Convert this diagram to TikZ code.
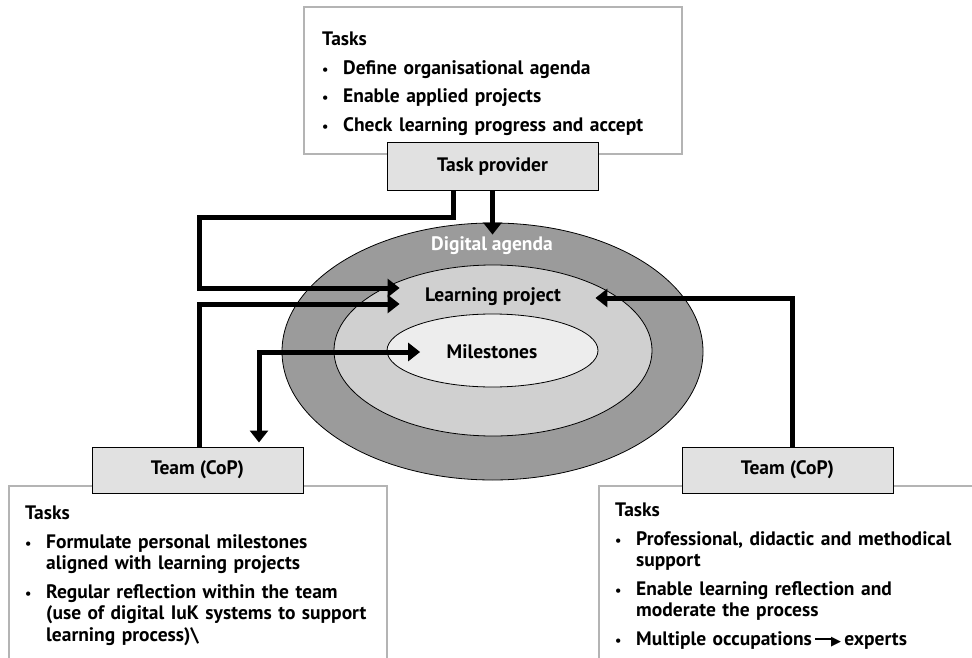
\documentclass[tikz,border=0pt]{standalone}
\usepackage{fontspec}
\setmainfont{PT Sans}
\newfontfamily\symfont{DejaVu Sans}
\usepackage{enumitem}
\usetikzlibrary{positioning, arrows.meta, shapes.geometric}
\definecolor{outercol}{RGB}{155,155,155}
\definecolor{middlecol}{RGB}{208,208,208}
\definecolor{innercol}{RGB}{237,237,237}
\definecolor{boxcol}{RGB}{225,225,225}
\definecolor{framecol}{RGB}{180,180,180}
\setlist[itemize]{label={\fontsize{14}{14}\selectfont\textbullet}, leftmargin=21pt, labelwidth=10pt, labelsep=11pt, align=left,
  itemsep=7pt, parsep=0pt, topsep=7pt, partopsep=0pt}

\begin{document}
\begin{tikzpicture}[
			x=1pt, y=-1pt,
			font=\bfseries\fontsize{19.5}{21.5}\selectfont,
			role/.style={
				draw=black,
				fill=boxcol,
				line width=1pt,
				minimum width=211pt,
				minimum height=47pt
			},
			frame/.style={
				draw=framecol,
				line width=1.3pt
			},
			ring/.style={
				draw=black,
				ellipse,
				line width=0.8pt,
				inner sep=0pt
			},
			tasks/.style={
				anchor=north west,
				text width=#1,
				inner sep=0pt,
				align=left
			},
			flow/.style={
				line width=5pt,
				-{Triangle[length=12pt,width=18pt]}
			},
			twoway/.style={
				line width=5pt,
				{Triangle[length=12pt,width=18pt]}-{Triangle[length=12pt,width=18pt]}
			}
			]
			\useasboundingbox (0,0) rectangle (972,658);

			% Task frames
			\node[frame, fill=white, minimum width=378pt, minimum height=147pt] (topframe) at (493,80.5) {};
			\draw[frame] (9,658) |- (387,486) -- (387,658);
			\draw[frame] (599,658) |- (972,486);

			% Rings
			\node[ring, fill=outercol, minimum width=421pt, minimum height=257pt] (outer) at (492.5,351.5) {};
			\node[ring, fill=middlecol, minimum width=318pt, minimum height=171pt] (middle) at (493,350.5) {};
			\node[ring, fill=innercol, minimum width=211pt, minimum height=73pt] (inner) at (492.5,350.5) {};
			\node[text=white] (agenda) at (492,246) {Digital agenda};
			\node (project) at (493,297) {Learning project};
			\node (milestones) at (492,352) {Milestones};

			% Roles
			\node[role] (provider) at (492.5,166.5) {Task provider};
			\node[role, minimum height=46pt] (teamL) at (197.5,470) {Team (CoP)};
			\node[role, minimum height=46pt] (teamR) [right=590pt of teamL.center, anchor=center] {Team (CoP)};

			% Task lists
			\node[tasks=360pt] (toptasks) at (322,32) {Tasks
				\begin{itemize}
					\item Define organisational agenda
					\item Enable applied projects
					\item Check learning progress and accept
				\end{itemize}};
			\node[tasks=360pt] (lefttasks) at (25,506) {Tasks
				\begin{itemize}
					\item Formulate personal milestones\\aligned with learning projects
					\item Regular reflection within the team\\(use of digital IuK systems to support\\learning process)\textbackslash
				\end{itemize}};
			\node[tasks=360pt] (righttasks) at (615,503) {Tasks
				\begin{itemize}
					\item Professional, didactic and methodical\\support
					\item Enable learning reflection and\\moderate the process
					\item Multiple occupations\,\rule[0.3em]{18pt}{1.2pt}\kern-2pt{\symfont\fontsize{13}{13}\selectfont ▶}\,experts
				\end{itemize}};

			% Connectors
			\draw[flow] (provider) -- ([yshift=-12pt]outer.north);
			\draw[flow] ([xshift=-39.5pt]provider.south) |- ++(-254,27)
				|- ([xshift=-22pt,yshift=9pt]project.west);
			\draw[flow] ([xshift=1.5pt]teamL.north) |- ([xshift=-22pt,yshift=-7pt]project.west);
			\draw[twoway] ([xshift=-23pt]milestones.west) -| ([xshift=61.5pt,yshift=4pt]teamL.north);
			\draw[flow] ([xshift=4.5pt]teamR.north) |- ([xshift=31pt,yshift=-1pt]project.east);
		\end{tikzpicture}
\end{document}
